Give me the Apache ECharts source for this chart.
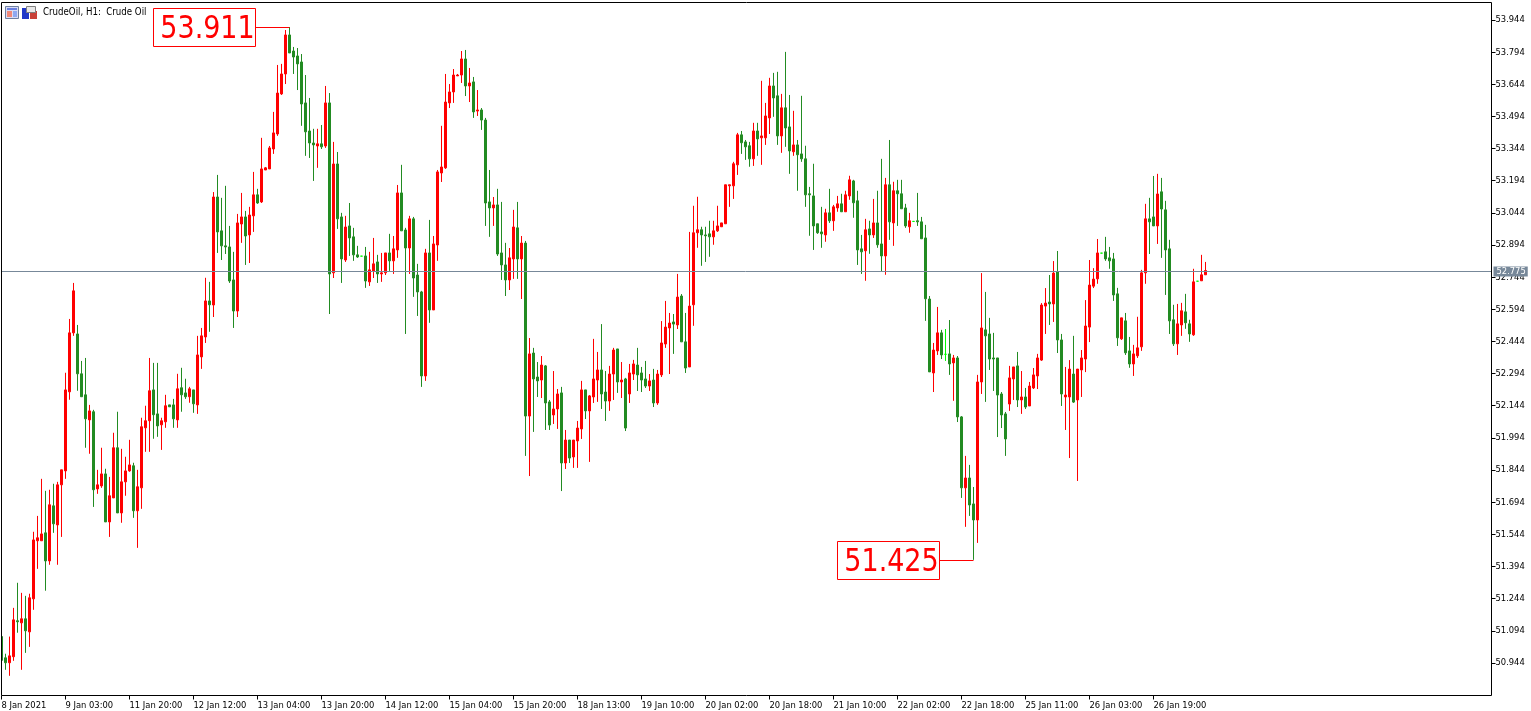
<!DOCTYPE html>
<html>
<head>
<meta charset="utf-8">
<title>CrudeOil, H1</title>
<style>html,body{margin:0;padding:0;background:#fff}#chart{width:1531px;height:711px}</style>
<script src="https://cdn.jsdelivr.net/npm/echarts@6/dist/echarts.min.js"></script>
</head>
<body>
<div id="chart"></div>
<script>
const opens = [
51.067,50.968,50.945,50.973,51.141,51.131,51.150,51.089,51.243,51.514,
51.514,51.551,51.420,51.677,51.588,51.775,51.840,52.209,52.484,52.479,
52.293,52.195,52.078,52.116,51.756,51.770,51.826,51.602,51.714,51.948,
51.644,51.789,51.840,51.864,51.654,51.761,52.041,52.074,52.218,52.106,
52.055,52.069,52.148,52.148,52.078,52.228,52.204,52.186,52.218,52.148,
52.372,52.465,52.633,52.614,53.118,52.960,52.890,52.885,52.731,52.586,
52.992,53.025,52.941,53.030,53.128,53.095,53.244,53.249,53.342,53.412,
53.599,53.692,53.874,53.799,53.776,53.748,53.557,53.426,53.370,53.356,
53.366,53.356,53.557,52.764,53.272,53.025,52.824,52.983,52.932,52.848,
52.842,52.843,52.722,52.773,52.815,52.759,52.764,52.857,52.820,52.871,
53.137,52.964,52.880,53.016,52.754,52.675,52.283,52.857,52.591,52.894,
53.230,53.254,53.557,53.608,53.683,53.687,53.762,53.636,53.655,53.519,
53.524,53.477,53.095,53.067,53.081,52.857,52.801,52.731,52.829,52.974,
52.829,52.903,52.096,52.390,52.278,52.264,52.330,52.162,52.101,52.129,
52.204,51.877,51.984,51.905,51.980,52.036,52.218,52.120,52.185,52.264,
52.311,52.208,52.166,52.292,52.409,52.255,52.269,52.199,52.292,52.334,
52.297,52.269,52.236,52.264,52.157,52.288,52.432,52.507,52.535,52.521,
52.656,52.442,52.325,52.615,52.951,52.965,52.941,52.946,52.932,52.960,
52.979,52.993,53.170,53.170,53.268,53.408,53.375,53.357,53.296,53.426,
53.394,53.394,53.487,53.636,53.590,53.403,53.534,53.445,53.329,53.361,
53.319,53.296,53.133,53.123,52.993,52.955,52.941,53.044,53.007,53.067,
53.086,53.049,53.123,53.193,53.100,52.876,52.867,52.969,52.941,52.997,
52.899,52.843,53.175,52.997,53.147,53.133,53.067,52.979,53.004,53.007,
53.002,52.927,52.642,52.297,52.400,52.484,52.384,52.386,52.344,52.367,
52.092,51.761,51.807,51.686,51.611,52.255,52.498,52.479,52.367,52.367,
52.199,52.106,52.152,52.269,52.330,52.171,52.185,52.143,52.227,52.283,
52.357,52.609,52.628,52.619,52.768,52.451,52.185,52.185,52.292,52.171,
52.311,52.362,52.511,52.702,52.736,52.856,52.862,52.834,52.829,52.666,
52.456,52.540,52.400,52.339,52.377,52.419,52.764,53.016,53.025,52.983,
53.142,53.058,52.876,52.545,52.433,52.521,52.582,52.526,52.475,52.725,
52.727,52.755];
const closes = [
50.956,50.945,50.977,51.145,51.136,51.150,51.094,51.248,51.518,51.528,
51.546,51.420,51.682,51.593,51.775,51.845,52.218,52.484,52.680,52.293,
52.186,52.083,52.120,51.752,51.775,51.826,51.602,51.724,51.948,51.644,
51.789,51.840,51.868,51.654,51.766,52.046,52.074,52.214,52.102,52.050,
52.074,52.144,52.139,52.083,52.223,52.195,52.186,52.223,52.153,52.381,
52.470,52.633,52.615,53.118,52.955,52.890,52.885,52.726,52.586,52.997,
53.025,52.936,53.034,53.128,53.090,53.249,53.254,53.347,53.417,53.603,
53.692,53.874,53.790,53.771,53.739,53.552,53.422,53.370,53.361,53.366,
53.352,53.557,52.759,53.272,53.016,52.829,52.978,52.927,52.848,52.838,
52.842,52.726,52.778,52.806,52.759,52.764,52.857,52.820,52.876,53.137,
52.960,52.880,53.016,52.740,52.675,52.283,52.857,52.591,52.899,53.235,
53.258,53.561,53.608,53.687,53.687,53.762,53.636,53.650,53.515,53.524,
53.477,53.090,53.067,53.081,52.852,52.801,52.731,52.834,52.978,52.829,
52.903,52.096,52.386,52.269,52.260,52.334,52.157,52.054,52.129,52.199,
51.877,51.984,51.900,51.984,52.040,52.218,52.120,52.190,52.269,52.311,
52.199,52.166,52.292,52.404,52.255,52.264,52.040,52.297,52.339,52.288,
52.264,52.236,52.260,52.157,52.292,52.437,52.511,52.530,52.525,52.651,
52.442,52.320,52.609,52.951,52.965,52.941,52.937,52.932,52.960,52.983,
52.997,53.175,53.175,53.273,53.408,53.371,53.352,53.296,53.426,53.389,
53.403,53.496,53.636,53.580,53.403,53.534,53.440,53.333,53.361,53.315,
53.296,53.128,53.128,52.983,52.951,52.946,53.044,53.007,53.072,53.086,
53.049,53.128,53.198,53.091,52.871,52.862,52.965,52.941,52.997,52.895,
52.843,53.175,53.002,53.147,53.133,53.063,52.983,53.007,53.004,53.002,
52.923,52.643,52.302,52.404,52.484,52.381,52.384,52.339,52.367,52.092,
51.761,51.807,51.681,51.611,52.255,52.507,52.470,52.362,52.362,52.194,
52.101,51.989,52.274,52.325,52.171,52.185,52.138,52.236,52.288,52.367,
52.614,52.623,52.619,52.763,52.451,52.199,52.194,52.315,52.161,52.315,
52.367,52.516,52.707,52.735,52.857,52.856,52.829,52.820,52.661,52.461,
52.554,52.391,52.339,52.386,52.414,52.764,53.016,53.002,52.983,53.132,
53.062,52.871,52.540,52.433,52.526,52.587,52.531,52.479,52.722,52.725,
52.755,52.775];
const highs = [
51.099,50.987,51.067,51.201,51.318,51.271,51.257,51.267,51.556,51.630,
51.803,51.747,51.752,51.780,51.789,51.845,52.298,52.549,52.717,52.521,
52.353,52.367,52.148,52.125,51.845,51.948,51.850,51.812,52.018,52.116,
51.943,51.906,51.985,51.878,51.845,52.088,52.144,52.367,52.344,52.344,
52.088,52.195,52.148,52.176,52.293,52.321,52.270,52.232,52.218,52.470,
52.507,52.741,52.722,53.141,53.221,53.114,53.170,52.983,52.862,53.039,
53.137,53.053,53.072,53.235,53.156,53.394,53.258,53.356,53.515,53.734,
53.739,53.897,53.911,53.818,53.813,53.785,53.687,53.580,53.436,53.436,
53.454,53.636,53.603,53.375,53.328,53.044,53.030,53.090,52.974,52.890,
52.842,52.885,52.862,52.927,52.848,52.857,52.857,52.946,52.936,53.174,
53.268,52.974,53.030,53.025,52.806,52.680,52.876,53.011,52.936,53.244,
53.450,53.692,53.645,53.715,53.692,53.799,53.804,53.720,53.678,53.617,
53.533,53.487,53.244,53.118,53.156,53.095,52.904,52.880,53.058,53.095,
52.936,52.913,52.460,52.414,52.348,52.376,52.334,52.171,52.306,52.222,
52.232,52.031,51.984,51.984,52.073,52.260,52.218,52.194,52.456,52.395,
52.525,52.306,52.330,52.414,52.409,52.348,52.274,52.339,52.358,52.414,
52.325,52.353,52.292,52.316,52.311,52.539,52.633,52.577,52.572,52.759,
52.665,52.577,52.955,53.077,53.119,52.979,52.979,53.007,53.007,53.077,
52.997,53.175,53.175,53.282,53.417,53.426,53.384,53.375,53.464,53.464,
53.660,53.557,53.674,53.697,53.702,53.599,53.795,53.594,53.520,53.384,
53.590,53.357,53.165,53.273,52.993,53.072,53.063,53.156,53.081,53.123,
53.133,53.147,53.217,53.198,53.147,52.941,53.016,53.007,53.109,53.147,
53.296,53.207,53.384,53.189,53.198,53.198,53.086,53.044,53.004,53.137,
53.025,52.988,52.656,52.437,52.605,52.498,52.502,52.544,52.381,52.376,
52.096,51.910,51.868,51.765,52.288,52.763,52.675,52.554,52.484,52.367,
52.208,52.115,52.330,52.325,52.395,52.306,52.227,52.255,52.320,52.386,
52.623,52.693,52.754,52.819,52.866,52.479,52.325,52.357,52.470,52.315,
52.404,52.637,52.824,52.786,52.922,52.856,52.932,52.885,52.857,52.694,
52.554,52.577,52.465,52.428,52.559,52.778,53.086,53.114,53.216,53.226,
53.207,53.100,52.918,52.615,52.619,52.624,52.666,52.545,52.783,52.725,
52.848,52.815];
const lows = [
50.956,50.912,50.884,50.954,51.085,50.912,50.991,51.019,51.192,51.383,
51.514,51.281,51.402,51.551,51.402,51.532,51.803,52.172,52.470,52.214,
52.186,51.948,51.920,51.672,51.733,51.761,51.602,51.532,51.714,51.644,
51.598,51.724,51.836,51.621,51.481,51.663,51.929,51.929,51.990,51.999,
51.938,52.041,52.139,52.041,52.041,52.116,52.176,52.158,52.111,52.106,
52.316,52.437,52.489,52.558,52.857,52.824,52.852,52.717,52.507,52.558,
52.904,52.801,52.810,52.955,53.086,53.090,53.244,53.249,53.319,53.403,
53.594,53.645,53.790,53.692,53.617,53.450,53.310,53.300,53.193,53.254,
53.342,53.347,52.572,52.740,52.969,52.717,52.815,52.843,52.820,52.834,
52.842,52.694,52.703,52.740,52.717,52.722,52.754,52.773,52.759,52.834,
52.960,52.479,52.759,52.652,52.563,52.232,52.260,52.531,52.591,52.820,
53.188,53.249,53.533,53.557,53.683,53.650,53.589,53.561,53.487,53.496,
53.431,52.983,52.932,52.983,52.843,52.731,52.656,52.684,52.736,52.736,
52.642,51.910,51.816,52.022,52.185,52.180,52.031,52.031,52.059,52.036,
51.746,51.849,51.877,51.854,51.854,51.989,52.082,51.882,52.157,52.162,
52.129,52.073,52.120,52.171,52.204,52.180,52.026,52.157,52.264,52.213,
52.208,52.227,52.213,52.138,52.148,52.278,52.414,52.292,52.386,52.502,
52.442,52.297,52.325,52.517,52.881,52.797,52.815,52.839,52.895,52.955,
52.979,52.993,53.072,53.109,53.221,53.319,53.291,53.259,53.263,53.310,
53.268,53.361,53.412,53.492,53.361,53.324,53.352,53.226,53.310,53.147,
53.282,53.072,52.937,52.871,52.946,52.881,52.909,52.997,52.960,53.049,
53.049,53.049,53.105,53.021,52.801,52.759,52.727,52.853,52.927,52.881,
52.769,52.755,52.918,52.890,52.983,53.063,52.974,52.951,53.004,52.983,
52.923,52.540,52.302,52.208,52.381,52.362,52.353,52.288,52.167,52.068,
51.714,51.579,51.630,51.425,51.504,52.199,52.162,52.311,52.213,51.998,
52.040,51.910,52.120,52.171,52.138,52.106,52.129,52.143,52.222,52.222,
52.353,52.479,52.521,52.535,52.390,52.143,52.031,51.900,52.157,51.793,
52.185,52.301,52.441,52.693,52.713,52.856,52.820,52.783,52.633,52.423,
52.451,52.381,52.321,52.283,52.367,52.400,52.713,52.852,52.983,52.899,
52.834,52.661,52.479,52.423,52.381,52.470,52.503,52.442,52.470,52.725,
52.727,52.755];

const timeLabels = ['8 Jan 2021','9 Jan 03:00','11 Jan 20:00','12 Jan 12:00','13 Jan 04:00','13 Jan 20:00',
  '14 Jan 12:00','15 Jan 04:00','15 Jan 20:00','18 Jan 13:00','19 Jan 10:00','20 Jan 02:00','20 Jan 18:00',
  '21 Jan 10:00','22 Jan 02:00','22 Jan 18:00','25 Jan 11:00','26 Jan 03:00','26 Jan 19:00'];
const barsPerLabel = 16;
const slotCount = 373;
const priceTicks = [50.944,51.094,51.244,51.394,51.544,51.694,51.844,51.994,52.144,52.294,52.444,
  52.594,52.744,52.894,53.044,53.194,53.344,53.494,53.644,53.794,53.944];
const currentPrice = 52.775;
const extremeBars = [72, 243];
const extremePrices = [53.911, 51.425];

const categories = Array.from({length: slotCount}, (_, i) => i);
const candles = opens.map((o, i) => [o, closes[i], lows[i], highs[i]]);
const RED = '#ff0000', GREEN = '#228b22', LIME = '#00ff00', SLATE = '#778899';
const smallFont = '"DejaVu Sans Condensed","DejaVu Sans",sans-serif';

const chart = echarts.init(document.getElementById('chart'), null, {renderer: 'canvas'});
chart.setOption({
  animation: false,
  backgroundColor: '#ffffff',
  title: {
    text: 'CrudeOil, H1:  Crude Oil', left: 43, top: 7, padding: 0,
    textStyle: {color: '#000', fontWeight: 'normal', fontSize: 9.6, fontFamily: smallFont}
  },
  grid: {left: -0.5, right: 39.5, top: 2.5, bottom: 15.5, containLabel: false, outerBoundsMode: 'none'},
  xAxis: {
    type: 'category', data: categories, boundaryGap: true,
    axisLine: {show: false},
    axisTick: {show: true, length: 4, alignWithLabel: true, lineStyle: {color: '#000'},
      interval: (i) => i % barsPerLabel === 0 && i / barsPerLabel < timeLabels.length},
    axisLabel: {
      show: true, align: 'left', margin: 6, color: '#000', fontSize: 9.3, fontFamily: smallFont,
      interval: (i) => i % barsPerLabel === 0 && i / barsPerLabel < timeLabels.length,
      formatter: (v, i) => timeLabels[i / barsPerLabel] || ''
    },
    splitLine: {show: false}
  },
  yAxis: {
    type: 'value', position: 'right', scale: true,
    min: 50.7921, max: 54.0254,
    axisLine: {show: false},
    axisTick: {show: true, length: 4, lineStyle: {color: '#000'}, customValues: priceTicks},
    axisLabel: {show: true, margin: 4, color: '#000', fontSize: 9.3, fontFamily: smallFont,
      padding: [6, 0, 0, 0], customValues: priceTicks, formatter: (v) => v.toFixed(3)},
    splitLine: {show: false}
  },
  series: [
    {
      type: 'candlestick', data: candles, barWidth: 2, clip: true,
      itemStyle: {color: RED, color0: GREEN, borderColor: RED, borderColor0: GREEN,
        borderColorDoji: LIME, borderWidth: 1},
      markLine: {
        silent: true, symbol: 'none', animation: false, z: 20,
        lineStyle: {color: SLATE, width: 1, type: 'solid'},
        label: {show: true, position: 'end', distance: 2, formatter: () => currentPrice.toFixed(3),
          backgroundColor: SLATE, color: '#fff', fontSize: 9.3, fontFamily: smallFont, padding: [1, 2, 0, 3]},
        data: [{yAxis: currentPrice}]
      }
    },
    {
      type: 'custom', coordinateSystem: 'cartesian2d', clip: false, z: 30,
      data: extremeBars.map((b, i) => [b, extremePrices[i]]),
      encode: {x: 0, y: 1},
      renderItem: (params, api) => {
        const p = api.coord([api.value(0), api.value(1)]);
        const px = Math.round(p[0] - 0.5) + 0.5, py = Math.round(p[1]) + 0.5;
        const right = px - 34, w = 102, h = 38;
        return {type: 'group', children: [
          {type: 'polyline', shape: {points: [[right, py], [px, py]]}, style: {stroke: RED, lineWidth: 1, fill: null}},
          {type: 'rect', shape: {x: right - w, y: py - h / 2, width: w, height: h},
            style: {fill: '#fff', stroke: RED, lineWidth: 1}},
          {type: 'text', x: right - w / 2 + 3, y: py + 2, scaleY: 1.06,
            style: {text: api.value(1).toFixed(3), fill: RED, align: 'center', verticalAlign: 'middle',
              fontSize: 30, fontFamily: smallFont}}
        ]};
      }
    }
  ],
  graphic: [
    {type: 'rect', z: 99, silent: true, shape: {x: 0, y: 0, width: 1, height: 711}, style: {fill: '#fff'}},
    {type: 'rect', z: 100, silent: true, shape: {x: 1.5, y: 2.5, width: 1490, height: 693},
      style: {fill: 'none', stroke: '#000', lineWidth: 1}},
    {type: 'group', z: 100, silent: true, children: [
      {type: 'rect', shape: {x: 5.5, y: 6.5, width: 13, height: 12}, style: {fill: '#d8dcf4', stroke: '#6f7f9f'}},
      {type: 'rect', shape: {x: 7, y: 8, width: 10, height: 2}, style: {fill: '#6a7fe0'}},
      {type: 'rect', shape: {x: 7, y: 11, width: 5, height: 6}, style: {fill: '#f08878'}},
      {type: 'rect', shape: {x: 13, y: 11, width: 4, height: 6}, style: {fill: '#8fa8f0'}},
      {type: 'rect', shape: {x: 22, y: 8, width: 7, height: 11}, style: {fill: '#2038c8'}},
      {type: 'rect', shape: {x: 30, y: 11, width: 7, height: 8}, style: {fill: '#c84038'}},
      {type: 'rect', shape: {x: 26.5, y: 6.5, width: 9, height: 6}, style: {fill: '#e8e8e8', stroke: '#808080'}}
    ]}
  ]
});
</script>
</body>
</html>
